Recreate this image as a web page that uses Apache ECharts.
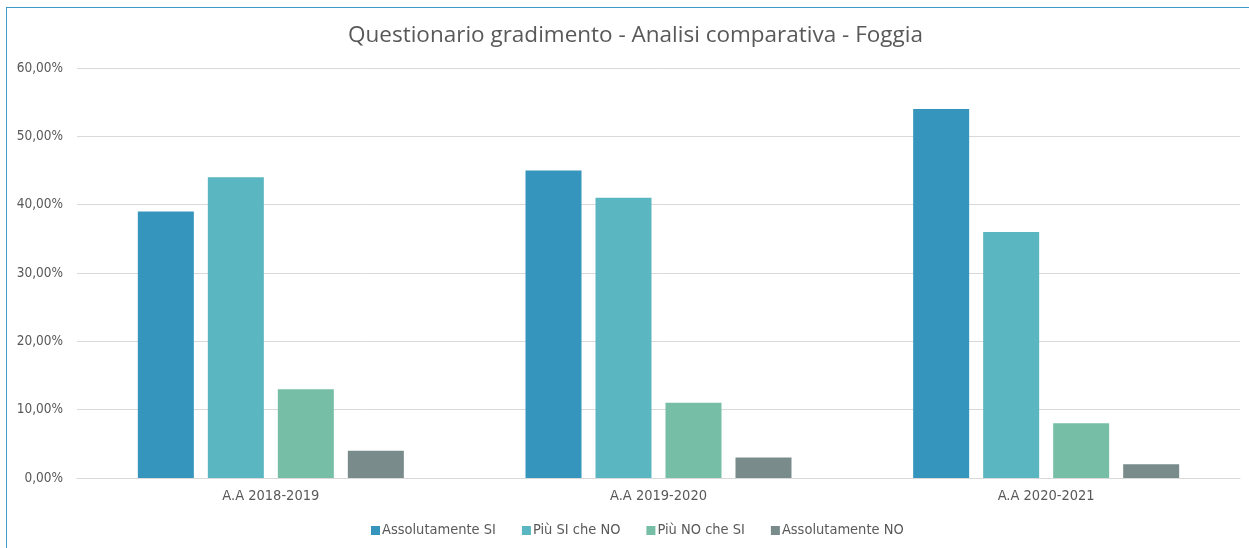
<!DOCTYPE html>
<html>
<head>
<meta charset="utf-8">
<script src="https://cdn.jsdelivr.net/npm/echarts@6/dist/echarts.min.js"></script>
<style>
  html, body { margin: 0; padding: 0; background: #fff; }
  #chart { width: 1249px; height: 548px; }
  .frame {
    position: absolute; left: 6px; top: 7px; width: 1260px; height: 560px;
    border: 1.5px solid #3d9cc6; pointer-events: none;
  }
</style>
</head>
<body>
<div id="chart"></div>
<div class="frame"></div>
<script>
const categories = ['A.A 2018-2019', 'A.A 2019-2020', 'A.A 2020-2021'];
const seriesNames = ['Assolutamente SI', 'Più SI che NO', 'Più NO che SI', 'Assolutamente NO'];
const assolutamenteSi = [39, 45, 54];
const piuSiCheNo = [44, 41, 36];
const piuNoCheSi = [13, 11, 8];
const assolutamenteNo = [4, 3, 2];
const colors = ['#3595bc', '#5ab6c0', '#76bfa6', '#7a8b8c'];

const labelFont = 'DejaVu Sans Condensed, DejaVu Sans, sans-serif';
const pct = v => v.toFixed(2).replace('.', ',') + '%';

const chart = echarts.init(document.getElementById('chart'), null, { renderer: 'canvas' });

const values = [assolutamenteSi, piuSiCheNo, piuNoCheSi, assolutamenteNo];

chart.setOption({
  animation: false,
  color: colors,
  title: {
    text: 'Questionario gradimento - Analisi comparativa - Foggia',
    left: 343,
    top: 19,
    textStyle: { fontFamily: 'Open Sans', fontSize: 22.5, fontWeight: 'normal', color: '#595959' }
  },
  legend: {
    bottom: 5,
    left: 366,
    icon: 'rect',
    itemWidth: 9,
    itemHeight: 9,
    itemGap: 26,
    textStyle: { fontFamily: labelFont, fontSize: 14.5, color: '#595959', padding: [0, 0, 0, -3] },
    data: seriesNames
  },
  grid: { left: 77, right: 9, top: 68, bottom: 70, containLabel: false },
  xAxis: {
    type: 'category',
    data: categories,
    axisLine: { lineStyle: { color: '#d9d9d9' } },
    axisTick: { show: false },
    axisLabel: { fontFamily: labelFont, fontSize: 14.5, color: '#595959', margin: 11 }
  },
  yAxis: {
    type: 'value',
    min: 0,
    max: 60,
    interval: 10,
    axisLine: { show: false },
    axisTick: { show: false },
    splitLine: { lineStyle: { color: '#d9d9d9' } },
    axisLabel: { formatter: pct, fontFamily: labelFont, fontSize: 13.5, color: '#595959', margin: 14 }
  },
  series: seriesNames.map((name, i) => ({
    name,
    type: 'bar',
    data: values[i],
    barWidth: 56,
    barGap: '25%',
    itemStyle: { color: colors[i] }
  }))
});

window.addEventListener('resize', () => chart.resize());
</script>
</body>
</html>
